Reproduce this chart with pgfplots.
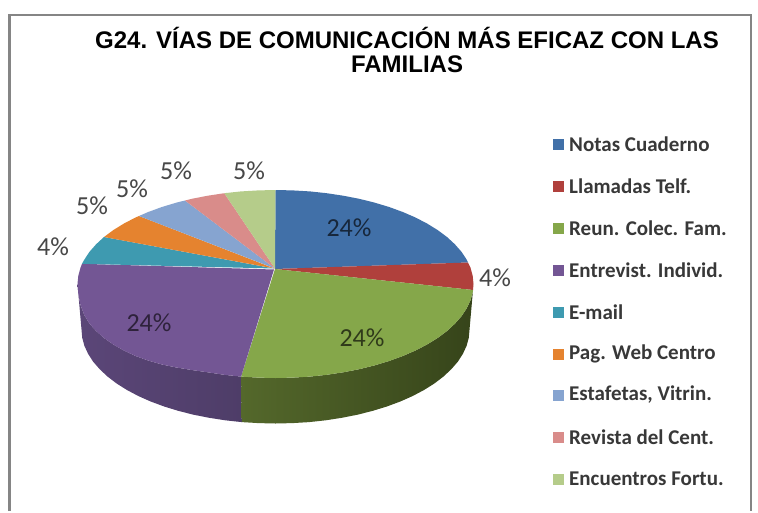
\documentclass[border=0pt]{standalone}
\usepackage{pgfplots}
\pgfplotsset{compat=1.18}
\usepackage{fontspec}
\setmainfont{Carlito}
\newfontfamily\titlefont{Liberation Sans}
\definecolor{cBlue}{HTML}{4170A8}
\definecolor{cRed}{HTML}{B0403C}
\definecolor{cGreen}{HTML}{85A74A}
\definecolor{cPurple}{HTML}{735694}
\definecolor{cTeal}{HTML}{3E9AB0}
\definecolor{cOrange}{HTML}{E5832F}
\definecolor{cLBlue}{HTML}{86A4D0}
\definecolor{cPink}{HTML}{D98C8A}
\definecolor{cOlive}{HTML}{B5CC8A}
\definecolor{sPurpleA}{HTML}{5B4678}
\definecolor{sPurpleB}{HTML}{5D4878}
\definecolor{sPurpleC}{HTML}{4E3D68}
\definecolor{sGreenA}{HTML}{54682B}
\definecolor{sGreenB}{HTML}{3F4E1D}
\definecolor{sGreenC}{HTML}{36441A}
\begin{document}
\begin{tikzpicture}
\begin{axis}[
  scale only axis, width=758pt, height=511pt,
  xmin=0, xmax=758, ymin=0, ymax=511, y dir=reverse,
  hide axis, clip=false]
% page
\addplot[fill=white,draw=none] coordinates {(0,0)(758,0)(758,511)(0,511)} --cycle;
% frame
\addplot[draw=black!48,line width=2.6pt] coordinates {(9.5,511)(9.5,15)(751,15)(751,511)};
% side faces
\addplot[draw=none,left color=sPurpleA,middle color=sPurpleB,right color=sPurpleC] coordinates {
(241.1,376.6)(224.3,374.8)(207.8,372.3)(191.8,370)(176.5,367.5)(161.9,364.5)(148.2,360.5)(135.5,356)(123.8,350.5)(113.3,344.5)(104,338)(96.1,331)(89.4,323.5)(84.3,315)(80.5,305)(78.3,294)(77.5,284)
(81.5,329.5)(82.2,337.7)(84.4,345.8)(88.1,353.8)(93.1,361.6)(99.7,369.2)(107.5,376.5)(116.5,383.4)(126.8,389.9)(138.3,396)(150.7,401.5)(164.2,406.5)(178.5,410.9)(193.5,414.7)(209.2,417.8)(225.3,420.3)(241.8,422.1)} --cycle;
\addplot[draw=none,left color=sGreenA,middle color=sGreenB,right color=sGreenC] coordinates {
(473,290)(472.7,292.2)(470.5,300.3)(466.7,308.3)(461.6,316.1)(454.9,323.7)(447,331)(437.7,337.9)(427.2,344.4)(415.5,350.5)(402.8,356)(389.1,361)(374.5,365.4)(359.2,369.2)(343.2,372.3)(326.7,374.8)(309.9,376.6)(292.8,377.6)(275.5,378)(258.2,377.6)(241.1,376.6)
(241.8,422.1)(258.5,423.1)(275.5,423.5)(292.5,423.1)(309.2,422.1)(325.7,420.3)(341.8,417.8)(357.5,414.7)(372.5,410.9)(386.8,406.5)(400.3,401.5)(412.7,396)(424.2,389.9)(434.5,383.4)(443.5,376.5)(451.3,369.2)(457.9,361.6)(462.9,353.8)(466.6,345.8)(468.8,337.7)} --cycle;
% top faces
\addplot[fill=cBlue,draw=none] coordinates {(275,269)(275.5,190)(292.8,190.4)(309.9,191.4)(326.7,193.2)(343.2,195.7)(359.2,198.8)(374.5,202.6)(389.1,207)(402.8,212)(415.5,217.5)(427.2,223.6)(437.7,230.1)(447,237)(454.9,244.3)(461.6,251.9)(466.7,259.7)(468,262.5)} --cycle;
\addplot[fill=cRed,draw=none] coordinates {(275,269)(468,262.5)(470.5,267.7)(472.7,275.8)(473.5,284)(473,290)} --cycle;
\addplot[fill=cGreen,draw=none] coordinates {(275,269)(473,290)(472.7,292.2)(470.5,300.3)(466.7,308.3)(461.6,316.1)(454.9,323.7)(447,331)(437.7,337.9)(427.2,344.4)(415.5,350.5)(402.8,356)(389.1,361)(374.5,365.4)(359.2,369.2)(343.2,372.3)(326.7,374.8)(309.9,376.6)(292.8,377.6)(275.5,378)(258.2,377.6)(241.1,376.6)} --cycle;
\addplot[fill=cPurple,draw=none] coordinates {(274,269.5)(241.1,376.6)(224.3,374.8)(207.8,372.3)(191.8,370)(176.5,367.5)(161.9,364.5)(148.2,360.5)(135.5,356)(123.8,350.5)(113.3,344.5)(104,338)(96.1,331)(89.4,323.5)(84.3,315)(80.5,305)(78.3,294)(77.5,284)(78.3,275.8)(80.5,267.7)(82,263.8)} --cycle;
\addplot[fill=cTeal,draw=none] coordinates {(274,268.5)(82,263.8)(84.3,259.7)(89.4,251.9)(96.1,244.3)(104,237)} --cycle;
\addplot[fill=cOrange,draw=none] coordinates {(274.5,268.5)(104,237)(113.3,230.1)(123.8,223.6)(135.5,217.5)(139,216)} --cycle;
\addplot[fill=cLBlue,draw=none] coordinates {(275,268.5)(139,216)(148.2,212)(161.9,207)(176.5,202.6)(185,200.5)} --cycle;
\addplot[fill=cPink,draw=none] coordinates {(275,268.5)(185,200.5)(191.8,198.8)(207.8,195.7)(224.3,193.2)} --cycle;
\addplot[fill=cOlive,draw=none] coordinates {(275,268.5)(224.3,193.2)(241.1,191.4)(258.2,190.4)(275.5,190)} --cycle;
% legend swatches
\addplot[only marks,mark=square*,mark size=5pt,color=cBlue] coordinates {(558,144)};
\addplot[only marks,mark=square*,mark size=5pt,color=cRed] coordinates {(558,186)};
\addplot[only marks,mark=square*,mark size=5pt,color=cGreen] coordinates {(558,228)};
\addplot[only marks,mark=square*,mark size=5pt,color=cPurple] coordinates {(558,270)};
\addplot[only marks,mark=square*,mark size=5pt,color=cTeal] coordinates {(558,312)};
\addplot[only marks,mark=square*,mark size=5pt,color=cOrange] coordinates {(558,354)};
\addplot[only marks,mark=square*,mark size=5pt,color=cLBlue] coordinates {(558,395)};
\addplot[only marks,mark=square*,mark size=5pt,color=cPink] coordinates {(558,437)};
\addplot[only marks,mark=square*,mark size=5pt,color=cOlive] coordinates {(558,479)};
% legend text
\tikzset{lg/.style={anchor=west,inner sep=0pt,text=black!78,font=\fontsize{21}{24}\selectfont\bfseries}}
\node[lg] at (axis cs:569,144) {Notas Cuaderno};
\node[lg] at (axis cs:569,186) {Llamadas Telf.};
\node[lg] at (axis cs:569,228) {Reun. Colec. Fam.};
\node[lg] at (axis cs:569,270) {Entrevist. Individ.};
\node[lg] at (axis cs:569,312) {E-mail};
\node[lg] at (axis cs:569,354) {Pag. Web Centro};
\node[lg] at (axis cs:569,395) {Estafetas, Vitrin.};
\node[lg] at (axis cs:569,437) {Revista del Cent.};
\node[lg] at (axis cs:569,479) {Encuentros Fortu.};
% data labels
\tikzset{dl/.style={inner sep=0pt,font=\fontsize{26}{28}\selectfont}}
\node[dl,text=black!72] at (axis cs:176,171) {5\%};
\node[dl,text=black!72] at (axis cs:249,171) {5\%};
\node[dl,text=black!72] at (axis cs:132,189) {5\%};
\node[dl,text=black!72] at (axis cs:92,206) {5\%};
\node[dl,text=black!72] at (axis cs:53,247) {4\%};
\node[dl,text=black!72] at (axis cs:495,278) {4\%};
\node[dl,text=cBlue!35!black] at (axis cs:349,228) {24\%};
\node[dl,text=cGreen!35!black] at (axis cs:362,338) {24\%};
\node[dl,text=cPurple!40!black] at (axis cs:149,323) {24\%};
% title
\node[align=center,inner sep=0pt,font=\titlefont\bfseries\fontsize{24}{24.5}\selectfont] at (axis cs:407,50) {G24. VÍAS DE COMUNICACIÓN MÁS EFICAZ CON LAS\\FAMILIAS};
\end{axis}
\end{tikzpicture}
\end{document}
